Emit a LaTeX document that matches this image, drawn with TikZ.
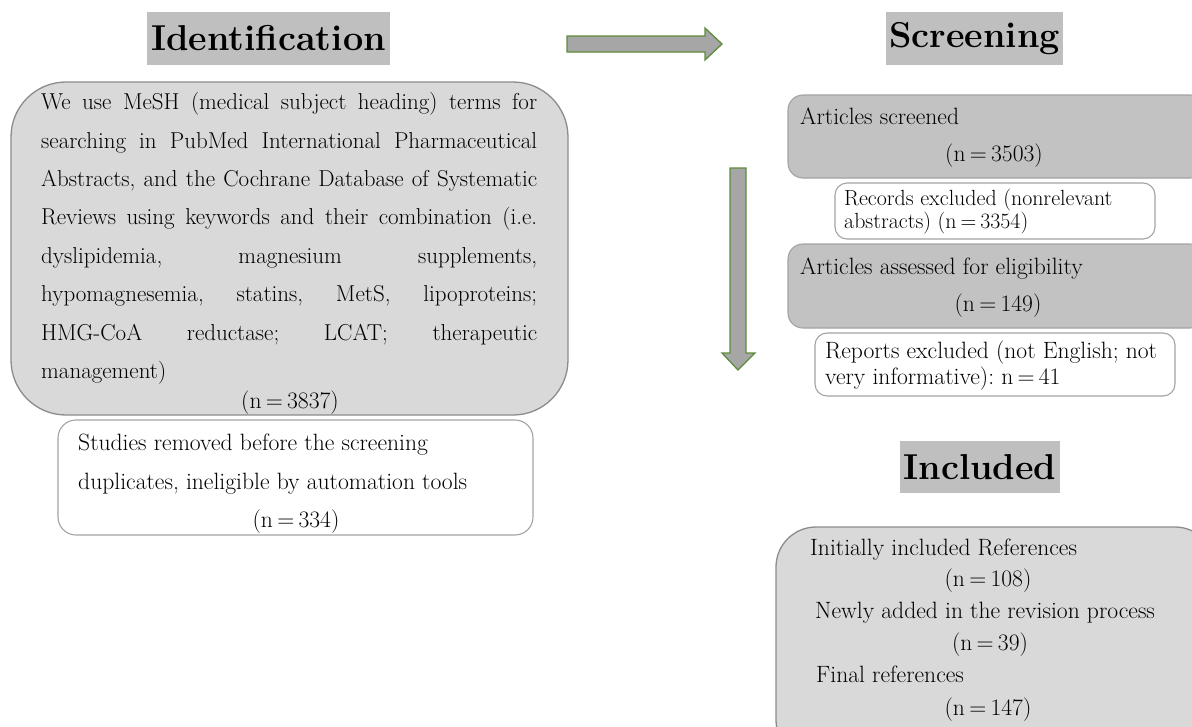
\documentclass[tikz,border=0pt]{standalone}
\usepackage{fontspec}
\frenchspacing
\definecolor{hdgray}{HTML}{BFBFBF}
\definecolor{lightfill}{HTML}{D9D9D9}
\definecolor{darkfill}{HTML}{C2C2C2}
\definecolor{edgegray}{HTML}{8C8C8C}
\definecolor{arrowfill}{HTML}{A6A6A6}
\definecolor{arrowgreen}{HTML}{5E8C3A}
\newcommand{\bodyfont}{\fontsize{23.6}{27}\selectfont}
\newcommand{\bigboxfont}{\fontsize{23}{26}\selectfont}
\newcommand{\smallbody}{\fontsize{21.9}{24}\selectfont}
\newcommand{\headfont}{\fontsize{36}{40}\selectfont\bfseries}
\newcommand{\jline}[1]{\makebox[496pt][s]{#1}}
\newcommand{\hd}[1]{\raisebox{-3pt}{#1}}
\newcommand{\eq}{\kern0.18em=\kern0.18em}
\begin{document}
\begin{tikzpicture}[x=1pt,y=-1pt,
  heading/.style={fill=hdgray, draw=none, inner sep=0pt, font=\headfont},
  bigbox/.style={draw=edgegray, line width=1.3pt, fill=lightfill, rounded corners=#1},
  graybox/.style={draw=edgegray!80, line width=1.1pt, fill=darkfill, rounded corners=15pt},
  whitebox/.style={draw=edgegray!80, line width=1.1pt, fill=white, rounded corners=#1},
  txt/.style={inner sep=0pt, font=\bodyfont, anchor=mid west, yshift=-4.5pt},
  jtxt/.style={inner sep=0pt, font=\bigboxfont, anchor=mid west, yshift=-4.5pt},
  ctxt/.style={inner sep=0pt, font=\bodyfont, anchor=mid, yshift=-4.5pt},
  stxt/.style={inner sep=0pt, font=\smallbody, anchor=mid west, yshift=-4pt},
  blockarrow/.style={draw=arrowgreen, line width=1.3pt, fill=arrowfill, line join=miter}
]
\useasboundingbox (0,0) rectangle (1192,726);

% headings
\node[heading, minimum width=243pt, minimum height=53pt] (hid) at (268.5,38.5) {\hd{Identification}};
\node[heading, minimum width=177pt, minimum height=53pt] (hscr) at (974.5,38.5) {\hd{Screening}};
\node[heading, minimum width=160pt, minimum height=52pt] (hinc) at (980,467) {\hd{Included}};

% block arrows
\draw[blockarrow] (567,36) -- (705,36) -- (705,28) -- (722,44) -- (705,60) -- (705,52) -- (567,52) -- cycle;
\draw[blockarrow] (730,168) -- (746,168) -- (746,353) -- (755,353) -- (738,370) -- (722,353) -- (730,353) -- cycle;

% identification box
\draw[bigbox=55pt] (11,82) rectangle (568,415);
\node[jtxt] (l1) at (41,103) {\jline{We use MeSH (medical subject heading) terms for}};
\node[jtxt] (l2) at (41,141.4) {\jline{searching in PubMed International Pharmaceutical}};
\node[jtxt] (l3) at (41,179.8) {\jline{Abstracts, and the Cochrane Database of Systematic}};
\node[jtxt] (l4) at (41,218.2) {\jline{Reviews using keywords and their combination (i.e.}};
\node[jtxt] (l5) at (41,256.6) {\jline{dyslipidemia, magnesium supplements,}};
\node[jtxt] (l6) at (41,295) {\jline{hypomagnesemia, statins, MetS, lipoproteins;}};
\node[jtxt] (l7) at (41,333.4) {\jline{HMG-CoA reductase; LCAT; therapeutic}};
\node[jtxt] (l8) at (41,371.8) {management)};
\node[ctxt] (n1) at (290,402) {(n\eq 3837)};

% studies removed
\draw[whitebox=18pt] (58,420) rectangle (533,535);
\node[txt] (s1) at (78,444) {Studies removed before the screening};
\node[txt] (s2) at (78,483) {duplicates, ineligible by automation tools};
\node[ctxt] (s3) at (296,521) {(n\eq 334)};

% screening column
\draw[graybox] (788,95) rectangle (1205,178);
\node[txt] (a1) at (800,118) {Articles screened};
\node[ctxt] (a2) at (994,155) {(n\eq 3503)};

\draw[whitebox=12pt] (835,183) rectangle (1155,239);
\node[stxt] (r1) at (844,199) {Records excluded (nonrelevant};
\node[stxt] (r2) at (844,222) {abstracts) (n\eq 3354)};

\draw[graybox] (788,244) rectangle (1205,328);
\node[txt] (e1) at (800,268) {Articles assessed for eligibility};
\node[ctxt] (e2) at (998,305) {(n\eq 149)};

\draw[whitebox=12pt] (815,333) rectangle (1175,396);
\node[txt] (x1) at (825,352) {Reports excluded (not English; not};
\node[txt] (x2) at (825,378) {very informative): n\eq 41};

% included box
\draw[bigbox=40pt] (776,527) rectangle (1215,760);
\node[txt] (i1) at (810,549) {Initially included References};
\node[ctxt] (i2) at (988,580) {(n\eq 108)};
\node[txt] (i3) at (815,612) {Newly added in the revision process};
\node[ctxt] (i4) at (990,644) {(n\eq 39)};
\node[txt] (i5) at (816,676) {Final references};
\node[ctxt] (i6) at (988,709) {(n\eq 147)};
\end{tikzpicture}
\end{document}
